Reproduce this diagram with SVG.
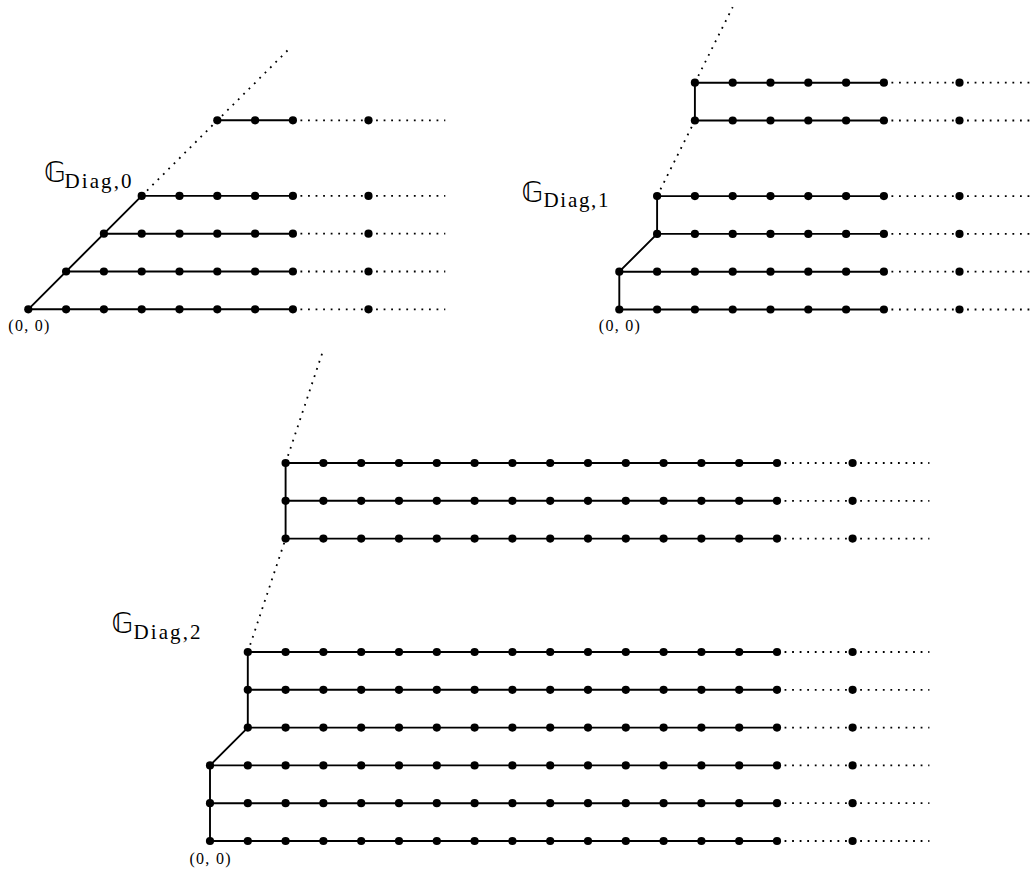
<svg xmlns="http://www.w3.org/2000/svg" xmlns:xlink="http://www.w3.org/1999/xlink" width="1032" height="870" viewBox="0 0 1032 870">
<style>
.e{fill:none;stroke:#000;stroke-width:1.9}
.t{fill:none;stroke:#000;stroke-width:1.8;stroke-dasharray:1.8 5.76}
.g{font-family:"DejaVu Sans","Noto Sans",sans-serif;font-size:28px;fill:#000}
.s{font-family:"Liberation Serif",serif;font-size:21px;fill:#000}
.o{font-family:"Liberation Serif",serif;font-size:16px;fill:#000;text-anchor:middle}
</style>
<defs><circle id="p" r="4.1" fill="#000"/></defs>
<rect width="1032" height="870" fill="#fff"/>
<g id="connectors">
<g id="conn-diag0" transform="translate(28.3,309.3)">
<path class="e" d="M0,0H264.6M37.8,-37.8H264.6M75.6,-75.6H264.6M113.4,-113.4H264.6M189,-189H264.6M0,0L113.4,-113.4"/>
<path class="t" d="M264.6,0H417M264.6,-37.8H417M264.6,-75.6H417M264.6,-113.4H417M264.6,-189H417M113.4,-113.4L262.4,-262"/>
</g>
<g id="conn-diag1" transform="translate(619.3,309.5)">
<path class="e" d="M0,0H264.6M0,-37.8H264.6M37.8,-75.6H264.6M37.8,-113.4H264.6M75.6,-189H264.6M75.6,-226.8H264.6M0,0V-37.8L37.8,-75.6V-113.4M75.6,-189V-226.8"/>
<path class="t" d="M264.6,0H417M264.6,-37.8H417M264.6,-75.6H417M264.6,-113.4H417M264.6,-189H417M264.6,-226.8H417M37.8,-113.4L75.6,-189M75.6,-226.8L113.4,-302.4"/>
</g>
<g id="conn-diag2" transform="translate(210,841)">
<path class="e" d="M0,0H567M0,-37.8H567M0,-75.6H567M37.8,-113.4H567M37.8,-151.2H567M37.8,-189H567M75.6,-302.4H567M75.6,-340.2H567M75.6,-378H567M0,0V-75.6L37.8,-113.4V-189M75.6,-302.4V-378"/>
<path class="t" d="M567,0H719.4M567,-37.8H719.4M567,-75.6H719.4M567,-113.4H719.4M567,-151.2H719.4M567,-189H719.4M567,-302.4H719.4M567,-340.2H719.4M567,-378H719.4M37.8,-189L75.6,-302.4M75.6,-378L113.4,-491.4"/>
</g>
</g>
<g id="nodes-diag0" transform="translate(28.3,309.3)">
<g id="a0_0"><use href="#p" x="0" y="0"/></g>
<g id="a0_1"><use href="#p" x="37.8" y="0"/></g>
<g id="a0_2"><use href="#p" x="75.6" y="0"/></g>
<g id="a0_3"><use href="#p" x="113.4" y="0"/></g>
<g id="a0_4"><use href="#p" x="151.2" y="0"/></g>
<g id="a0_5"><use href="#p" x="189" y="0"/></g>
<g id="a0_6"><use href="#p" x="226.8" y="0"/></g>
<g id="a0_7"><use href="#p" x="264.6" y="0"/></g>
<g id="a0_9"><use href="#p" x="340.2" y="0"/></g>
<g id="a1_1"><use href="#p" x="37.8" y="-37.8"/></g>
<g id="a1_2"><use href="#p" x="75.6" y="-37.8"/></g>
<g id="a1_3"><use href="#p" x="113.4" y="-37.8"/></g>
<g id="a1_4"><use href="#p" x="151.2" y="-37.8"/></g>
<g id="a1_5"><use href="#p" x="189" y="-37.8"/></g>
<g id="a1_6"><use href="#p" x="226.8" y="-37.8"/></g>
<g id="a1_7"><use href="#p" x="264.6" y="-37.8"/></g>
<g id="a1_9"><use href="#p" x="340.2" y="-37.8"/></g>
<g id="a2_2"><use href="#p" x="75.6" y="-75.6"/></g>
<g id="a2_3"><use href="#p" x="113.4" y="-75.6"/></g>
<g id="a2_4"><use href="#p" x="151.2" y="-75.6"/></g>
<g id="a2_5"><use href="#p" x="189" y="-75.6"/></g>
<g id="a2_6"><use href="#p" x="226.8" y="-75.6"/></g>
<g id="a2_7"><use href="#p" x="264.6" y="-75.6"/></g>
<g id="a2_9"><use href="#p" x="340.2" y="-75.6"/></g>
<g id="a3_3"><use href="#p" x="113.4" y="-113.4"/></g>
<g id="a3_4"><use href="#p" x="151.2" y="-113.4"/></g>
<g id="a3_5"><use href="#p" x="189" y="-113.4"/></g>
<g id="a3_6"><use href="#p" x="226.8" y="-113.4"/></g>
<g id="a3_7"><use href="#p" x="264.6" y="-113.4"/></g>
<g id="a3_9"><use href="#p" x="340.2" y="-113.4"/></g>
<g id="a5_5"><use href="#p" x="189" y="-189"/></g>
<g id="a5_6"><use href="#p" x="226.8" y="-189"/></g>
<g id="a5_7"><use href="#p" x="264.6" y="-189"/></g>
<g id="a5_9"><use href="#p" x="340.2" y="-189"/></g>
</g>
<g id="nodes-diag1" transform="translate(619.3,309.5)">
<g id="b0_0"><use href="#p" x="0" y="0"/></g>
<g id="b0_1"><use href="#p" x="37.8" y="0"/></g>
<g id="b0_2"><use href="#p" x="75.6" y="0"/></g>
<g id="b0_3"><use href="#p" x="113.4" y="0"/></g>
<g id="b0_4"><use href="#p" x="151.2" y="0"/></g>
<g id="b0_5"><use href="#p" x="189" y="0"/></g>
<g id="b0_6"><use href="#p" x="226.8" y="0"/></g>
<g id="b0_7"><use href="#p" x="264.6" y="0"/></g>
<g id="b0_9"><use href="#p" x="340.2" y="0"/></g>
<g id="b1_0"><use href="#p" x="0" y="-37.8"/></g>
<g id="b1_1"><use href="#p" x="37.8" y="-37.8"/></g>
<g id="b1_2"><use href="#p" x="75.6" y="-37.8"/></g>
<g id="b1_3"><use href="#p" x="113.4" y="-37.8"/></g>
<g id="b1_4"><use href="#p" x="151.2" y="-37.8"/></g>
<g id="b1_5"><use href="#p" x="189" y="-37.8"/></g>
<g id="b1_6"><use href="#p" x="226.8" y="-37.8"/></g>
<g id="b1_7"><use href="#p" x="264.6" y="-37.8"/></g>
<g id="b1_9"><use href="#p" x="340.2" y="-37.8"/></g>
<g id="b2_1"><use href="#p" x="37.8" y="-75.6"/></g>
<g id="b2_2"><use href="#p" x="75.6" y="-75.6"/></g>
<g id="b2_3"><use href="#p" x="113.4" y="-75.6"/></g>
<g id="b2_4"><use href="#p" x="151.2" y="-75.6"/></g>
<g id="b2_5"><use href="#p" x="189" y="-75.6"/></g>
<g id="b2_6"><use href="#p" x="226.8" y="-75.6"/></g>
<g id="b2_7"><use href="#p" x="264.6" y="-75.6"/></g>
<g id="b2_9"><use href="#p" x="340.2" y="-75.6"/></g>
<g id="b3_1"><use href="#p" x="37.8" y="-113.4"/></g>
<g id="b3_2"><use href="#p" x="75.6" y="-113.4"/></g>
<g id="b3_3"><use href="#p" x="113.4" y="-113.4"/></g>
<g id="b3_4"><use href="#p" x="151.2" y="-113.4"/></g>
<g id="b3_5"><use href="#p" x="189" y="-113.4"/></g>
<g id="b3_6"><use href="#p" x="226.8" y="-113.4"/></g>
<g id="b3_7"><use href="#p" x="264.6" y="-113.4"/></g>
<g id="b3_9"><use href="#p" x="340.2" y="-113.4"/></g>
<g id="b5_2"><use href="#p" x="75.6" y="-189"/></g>
<g id="b5_3"><use href="#p" x="113.4" y="-189"/></g>
<g id="b5_4"><use href="#p" x="151.2" y="-189"/></g>
<g id="b5_5"><use href="#p" x="189" y="-189"/></g>
<g id="b5_6"><use href="#p" x="226.8" y="-189"/></g>
<g id="b5_7"><use href="#p" x="264.6" y="-189"/></g>
<g id="b5_9"><use href="#p" x="340.2" y="-189"/></g>
<g id="b6_2"><use href="#p" x="75.6" y="-226.8"/></g>
<g id="b6_3"><use href="#p" x="113.4" y="-226.8"/></g>
<g id="b6_4"><use href="#p" x="151.2" y="-226.8"/></g>
<g id="b6_5"><use href="#p" x="189" y="-226.8"/></g>
<g id="b6_6"><use href="#p" x="226.8" y="-226.8"/></g>
<g id="b6_7"><use href="#p" x="264.6" y="-226.8"/></g>
<g id="b6_9"><use href="#p" x="340.2" y="-226.8"/></g>
</g>
<g id="nodes-diag2" transform="translate(210,841)">
<g id="c0_0"><use href="#p" x="0" y="0"/></g>
<g id="c0_1"><use href="#p" x="37.8" y="0"/></g>
<g id="c0_2"><use href="#p" x="75.6" y="0"/></g>
<g id="c0_3"><use href="#p" x="113.4" y="0"/></g>
<g id="c0_4"><use href="#p" x="151.2" y="0"/></g>
<g id="c0_5"><use href="#p" x="189" y="0"/></g>
<g id="c0_6"><use href="#p" x="226.8" y="0"/></g>
<g id="c0_7"><use href="#p" x="264.6" y="0"/></g>
<g id="c0_8"><use href="#p" x="302.4" y="0"/></g>
<g id="c0_9"><use href="#p" x="340.2" y="0"/></g>
<g id="c0_10"><use href="#p" x="378" y="0"/></g>
<g id="c0_11"><use href="#p" x="415.8" y="0"/></g>
<g id="c0_12"><use href="#p" x="453.6" y="0"/></g>
<g id="c0_13"><use href="#p" x="491.4" y="0"/></g>
<g id="c0_14"><use href="#p" x="529.2" y="0"/></g>
<g id="c0_15"><use href="#p" x="567" y="0"/></g>
<g id="c0_17"><use href="#p" x="642.6" y="0"/></g>
<g id="c1_0"><use href="#p" x="0" y="-37.8"/></g>
<g id="c1_1"><use href="#p" x="37.8" y="-37.8"/></g>
<g id="c1_2"><use href="#p" x="75.6" y="-37.8"/></g>
<g id="c1_3"><use href="#p" x="113.4" y="-37.8"/></g>
<g id="c1_4"><use href="#p" x="151.2" y="-37.8"/></g>
<g id="c1_5"><use href="#p" x="189" y="-37.8"/></g>
<g id="c1_6"><use href="#p" x="226.8" y="-37.8"/></g>
<g id="c1_7"><use href="#p" x="264.6" y="-37.8"/></g>
<g id="c1_8"><use href="#p" x="302.4" y="-37.8"/></g>
<g id="c1_9"><use href="#p" x="340.2" y="-37.8"/></g>
<g id="c1_10"><use href="#p" x="378" y="-37.8"/></g>
<g id="c1_11"><use href="#p" x="415.8" y="-37.8"/></g>
<g id="c1_12"><use href="#p" x="453.6" y="-37.8"/></g>
<g id="c1_13"><use href="#p" x="491.4" y="-37.8"/></g>
<g id="c1_14"><use href="#p" x="529.2" y="-37.8"/></g>
<g id="c1_15"><use href="#p" x="567" y="-37.8"/></g>
<g id="c1_17"><use href="#p" x="642.6" y="-37.8"/></g>
<g id="c2_0"><use href="#p" x="0" y="-75.6"/></g>
<g id="c2_1"><use href="#p" x="37.8" y="-75.6"/></g>
<g id="c2_2"><use href="#p" x="75.6" y="-75.6"/></g>
<g id="c2_3"><use href="#p" x="113.4" y="-75.6"/></g>
<g id="c2_4"><use href="#p" x="151.2" y="-75.6"/></g>
<g id="c2_5"><use href="#p" x="189" y="-75.6"/></g>
<g id="c2_6"><use href="#p" x="226.8" y="-75.6"/></g>
<g id="c2_7"><use href="#p" x="264.6" y="-75.6"/></g>
<g id="c2_8"><use href="#p" x="302.4" y="-75.6"/></g>
<g id="c2_9"><use href="#p" x="340.2" y="-75.6"/></g>
<g id="c2_10"><use href="#p" x="378" y="-75.6"/></g>
<g id="c2_11"><use href="#p" x="415.8" y="-75.6"/></g>
<g id="c2_12"><use href="#p" x="453.6" y="-75.6"/></g>
<g id="c2_13"><use href="#p" x="491.4" y="-75.6"/></g>
<g id="c2_14"><use href="#p" x="529.2" y="-75.6"/></g>
<g id="c2_15"><use href="#p" x="567" y="-75.6"/></g>
<g id="c2_17"><use href="#p" x="642.6" y="-75.6"/></g>
<g id="c3_1"><use href="#p" x="37.8" y="-113.4"/></g>
<g id="c3_2"><use href="#p" x="75.6" y="-113.4"/></g>
<g id="c3_3"><use href="#p" x="113.4" y="-113.4"/></g>
<g id="c3_4"><use href="#p" x="151.2" y="-113.4"/></g>
<g id="c3_5"><use href="#p" x="189" y="-113.4"/></g>
<g id="c3_6"><use href="#p" x="226.8" y="-113.4"/></g>
<g id="c3_7"><use href="#p" x="264.6" y="-113.4"/></g>
<g id="c3_8"><use href="#p" x="302.4" y="-113.4"/></g>
<g id="c3_9"><use href="#p" x="340.2" y="-113.4"/></g>
<g id="c3_10"><use href="#p" x="378" y="-113.4"/></g>
<g id="c3_11"><use href="#p" x="415.8" y="-113.4"/></g>
<g id="c3_12"><use href="#p" x="453.6" y="-113.4"/></g>
<g id="c3_13"><use href="#p" x="491.4" y="-113.4"/></g>
<g id="c3_14"><use href="#p" x="529.2" y="-113.4"/></g>
<g id="c3_15"><use href="#p" x="567" y="-113.4"/></g>
<g id="c3_17"><use href="#p" x="642.6" y="-113.4"/></g>
<g id="c4_1"><use href="#p" x="37.8" y="-151.2"/></g>
<g id="c4_2"><use href="#p" x="75.6" y="-151.2"/></g>
<g id="c4_3"><use href="#p" x="113.4" y="-151.2"/></g>
<g id="c4_4"><use href="#p" x="151.2" y="-151.2"/></g>
<g id="c4_5"><use href="#p" x="189" y="-151.2"/></g>
<g id="c4_6"><use href="#p" x="226.8" y="-151.2"/></g>
<g id="c4_7"><use href="#p" x="264.6" y="-151.2"/></g>
<g id="c4_8"><use href="#p" x="302.4" y="-151.2"/></g>
<g id="c4_9"><use href="#p" x="340.2" y="-151.2"/></g>
<g id="c4_10"><use href="#p" x="378" y="-151.2"/></g>
<g id="c4_11"><use href="#p" x="415.8" y="-151.2"/></g>
<g id="c4_12"><use href="#p" x="453.6" y="-151.2"/></g>
<g id="c4_13"><use href="#p" x="491.4" y="-151.2"/></g>
<g id="c4_14"><use href="#p" x="529.2" y="-151.2"/></g>
<g id="c4_15"><use href="#p" x="567" y="-151.2"/></g>
<g id="c4_17"><use href="#p" x="642.6" y="-151.2"/></g>
<g id="c5_1"><use href="#p" x="37.8" y="-189"/></g>
<g id="c5_2"><use href="#p" x="75.6" y="-189"/></g>
<g id="c5_3"><use href="#p" x="113.4" y="-189"/></g>
<g id="c5_4"><use href="#p" x="151.2" y="-189"/></g>
<g id="c5_5"><use href="#p" x="189" y="-189"/></g>
<g id="c5_6"><use href="#p" x="226.8" y="-189"/></g>
<g id="c5_7"><use href="#p" x="264.6" y="-189"/></g>
<g id="c5_8"><use href="#p" x="302.4" y="-189"/></g>
<g id="c5_9"><use href="#p" x="340.2" y="-189"/></g>
<g id="c5_10"><use href="#p" x="378" y="-189"/></g>
<g id="c5_11"><use href="#p" x="415.8" y="-189"/></g>
<g id="c5_12"><use href="#p" x="453.6" y="-189"/></g>
<g id="c5_13"><use href="#p" x="491.4" y="-189"/></g>
<g id="c5_14"><use href="#p" x="529.2" y="-189"/></g>
<g id="c5_15"><use href="#p" x="567" y="-189"/></g>
<g id="c5_17"><use href="#p" x="642.6" y="-189"/></g>
<g id="c8_2"><use href="#p" x="75.6" y="-302.4"/></g>
<g id="c8_3"><use href="#p" x="113.4" y="-302.4"/></g>
<g id="c8_4"><use href="#p" x="151.2" y="-302.4"/></g>
<g id="c8_5"><use href="#p" x="189" y="-302.4"/></g>
<g id="c8_6"><use href="#p" x="226.8" y="-302.4"/></g>
<g id="c8_7"><use href="#p" x="264.6" y="-302.4"/></g>
<g id="c8_8"><use href="#p" x="302.4" y="-302.4"/></g>
<g id="c8_9"><use href="#p" x="340.2" y="-302.4"/></g>
<g id="c8_10"><use href="#p" x="378" y="-302.4"/></g>
<g id="c8_11"><use href="#p" x="415.8" y="-302.4"/></g>
<g id="c8_12"><use href="#p" x="453.6" y="-302.4"/></g>
<g id="c8_13"><use href="#p" x="491.4" y="-302.4"/></g>
<g id="c8_14"><use href="#p" x="529.2" y="-302.4"/></g>
<g id="c8_15"><use href="#p" x="567" y="-302.4"/></g>
<g id="c8_17"><use href="#p" x="642.6" y="-302.4"/></g>
<g id="c9_2"><use href="#p" x="75.6" y="-340.2"/></g>
<g id="c9_3"><use href="#p" x="113.4" y="-340.2"/></g>
<g id="c9_4"><use href="#p" x="151.2" y="-340.2"/></g>
<g id="c9_5"><use href="#p" x="189" y="-340.2"/></g>
<g id="c9_6"><use href="#p" x="226.8" y="-340.2"/></g>
<g id="c9_7"><use href="#p" x="264.6" y="-340.2"/></g>
<g id="c9_8"><use href="#p" x="302.4" y="-340.2"/></g>
<g id="c9_9"><use href="#p" x="340.2" y="-340.2"/></g>
<g id="c9_10"><use href="#p" x="378" y="-340.2"/></g>
<g id="c9_11"><use href="#p" x="415.8" y="-340.2"/></g>
<g id="c9_12"><use href="#p" x="453.6" y="-340.2"/></g>
<g id="c9_13"><use href="#p" x="491.4" y="-340.2"/></g>
<g id="c9_14"><use href="#p" x="529.2" y="-340.2"/></g>
<g id="c9_15"><use href="#p" x="567" y="-340.2"/></g>
<g id="c9_17"><use href="#p" x="642.6" y="-340.2"/></g>
<g id="c10_2"><use href="#p" x="75.6" y="-378"/></g>
<g id="c10_3"><use href="#p" x="113.4" y="-378"/></g>
<g id="c10_4"><use href="#p" x="151.2" y="-378"/></g>
<g id="c10_5"><use href="#p" x="189" y="-378"/></g>
<g id="c10_6"><use href="#p" x="226.8" y="-378"/></g>
<g id="c10_7"><use href="#p" x="264.6" y="-378"/></g>
<g id="c10_8"><use href="#p" x="302.4" y="-378"/></g>
<g id="c10_9"><use href="#p" x="340.2" y="-378"/></g>
<g id="c10_10"><use href="#p" x="378" y="-378"/></g>
<g id="c10_11"><use href="#p" x="415.8" y="-378"/></g>
<g id="c10_12"><use href="#p" x="453.6" y="-378"/></g>
<g id="c10_13"><use href="#p" x="491.4" y="-378"/></g>
<g id="c10_14"><use href="#p" x="529.2" y="-378"/></g>
<g id="c10_15"><use href="#p" x="567" y="-378"/></g>
<g id="c10_17"><use href="#p" x="642.6" y="-378"/></g>
</g>
<g id="labels">
<g id="title0"><text class="g" x="44" y="182">𝔾</text><text class="s" x="64.5" y="188" textLength="67" lengthAdjust="spacing">Diag,0</text></g>
<g id="title1"><text class="g" x="521.5" y="202">𝔾</text><text class="s" x="543.5" y="207" textLength="65" lengthAdjust="spacing">Diag,1</text></g>
<g id="title2"><text class="g" x="111.5" y="633">𝔾</text><text class="s" x="133.5" y="639" textLength="67" lengthAdjust="spacing">Diag,2</text></g>
<g id="origin0"><text class="o" x="28.8" y="330.5" textLength="41" lengthAdjust="spacing">(0, 0)</text></g>
<g id="origin1"><text class="o" x="619.3" y="331" textLength="41" lengthAdjust="spacing">(0, 0)</text></g>
<g id="origin2"><text class="o" x="210" y="863.5" textLength="41" lengthAdjust="spacing">(0, 0)</text></g>
</g>
</svg>
